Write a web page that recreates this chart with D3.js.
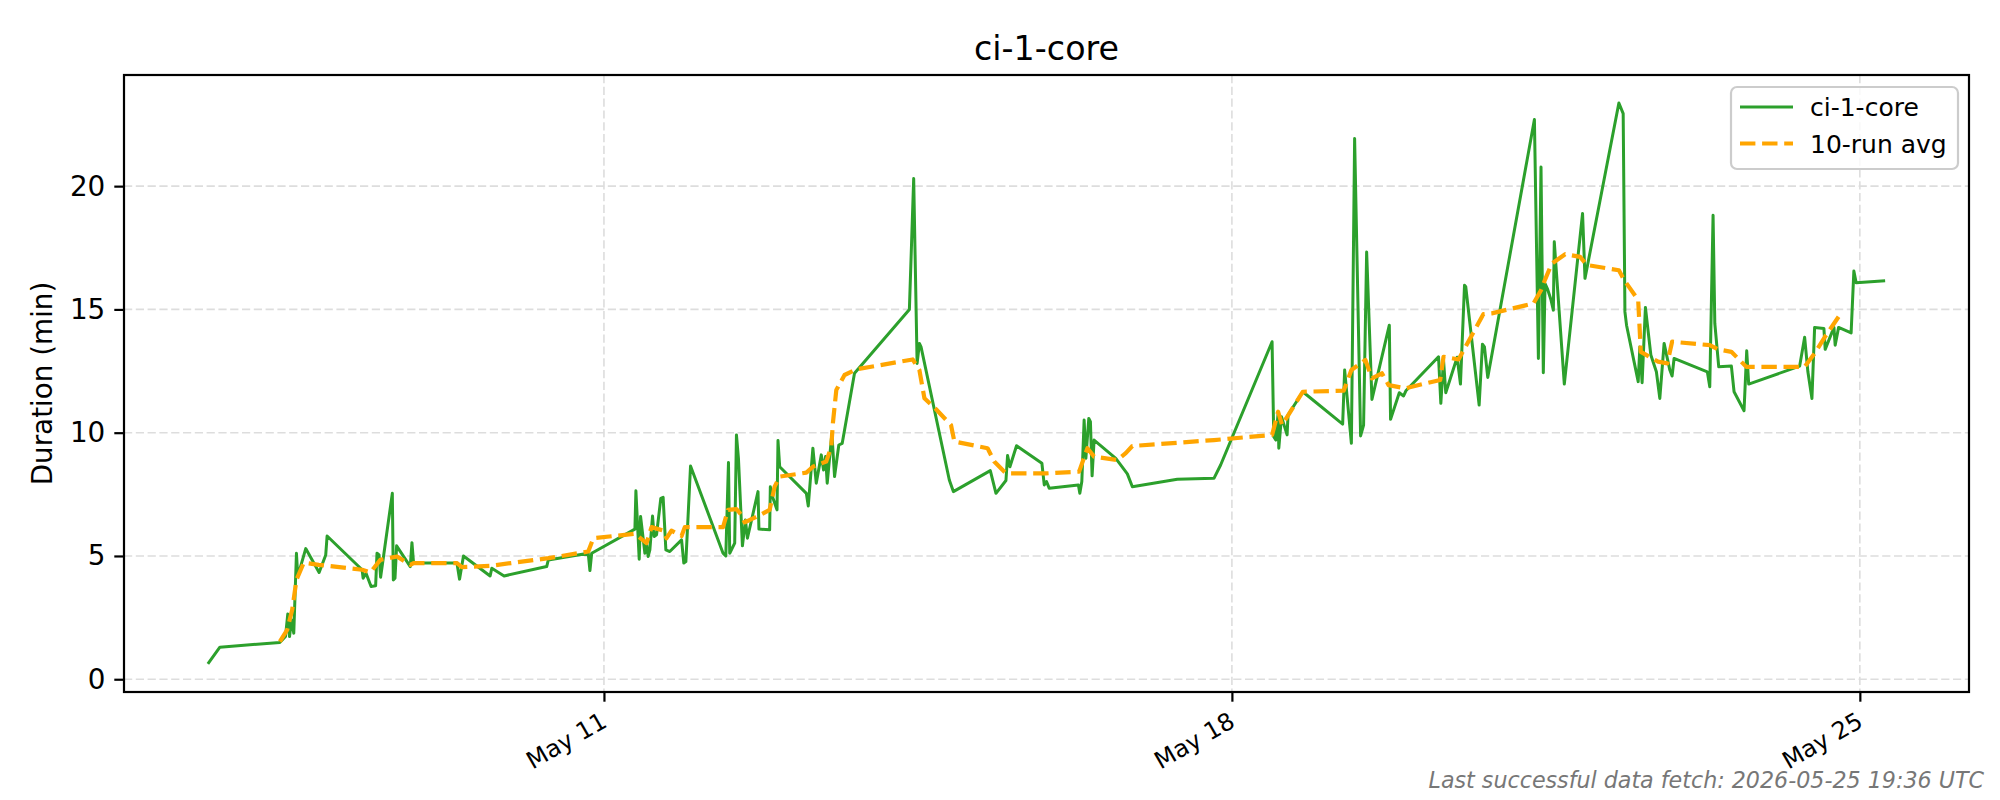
<!DOCTYPE html>
<html>
<head>
<meta charset="utf-8">
<script src="https://cdn.jsdelivr.net/npm/d3@7"></script>
<style>
  html, body { margin: 0; padding: 0; background: #ffffff; }
  svg { display: block; font-family: "DejaVu Sans", sans-serif; }
</style>
</head>
<body>
<svg id="chart" width="2000" height="800"></svg>
<script>
// ---------------- data ----------------
const chartTitle = "ci-1-core";
const seriesName = "ci-1-core";
const avgName = "10-run avg";
const yLabel = "Duration (min)";
const footerText = "Last successful data fetch: 2026-05-25 19:36 UTC";

const runTimes = [
"2026-05-06T14:02","2026-05-06T17:15","2026-05-07T09:17","2026-05-07T10:48","2026-05-07T11:25","2026-05-07T11:53","2026-05-07T12:25","2026-05-07T13:01","2026-05-07T13:44","2026-05-07T14:05",
"2026-05-07T16:13","2026-05-07T19:48","2026-05-07T21:34","2026-05-07T21:56","2026-05-08T07:18","2026-05-08T07:34","2026-05-08T08:21","2026-05-08T09:42","2026-05-08T10:55","2026-05-08T11:17",
"2026-05-08T11:50","2026-05-08T12:15","2026-05-08T15:23","2026-05-08T15:39","2026-05-08T16:06","2026-05-08T16:32","2026-05-08T20:11","2026-05-08T20:38","2026-05-08T21:04","2026-05-09T08:40",
"2026-05-09T09:22","2026-05-09T10:25","2026-05-09T17:33","2026-05-09T18:00","2026-05-09T21:17","2026-05-10T08:41","2026-05-10T09:07","2026-05-10T19:48","2026-05-10T20:15","2026-05-10T20:43",
"2026-05-11T08:17","2026-05-11T08:33","2026-05-11T09:26","2026-05-11T09:48","2026-05-11T10:57","2026-05-11T11:24","2026-05-11T11:50","2026-05-11T12:17","2026-05-11T13:00","2026-05-11T13:26",
"2026-05-11T14:04","2026-05-11T15:13","2026-05-11T15:50","2026-05-11T16:34","2026-05-11T17:37","2026-05-11T20:46","2026-05-11T21:22","2026-05-11T21:55","2026-05-11T23:10","2026-05-12T07:52",
"2026-05-12T08:36","2026-05-12T09:19","2026-05-12T09:39","2026-05-12T10:59","2026-05-12T11:27","2026-05-12T11:59","2026-05-12T13:03","2026-05-12T13:51","2026-05-12T14:23","2026-05-12T17:13",
"2026-05-12T17:28","2026-05-12T20:20","2026-05-12T20:31","2026-05-12T21:04","2026-05-12T22:18","2026-05-12T22:34","2026-05-12T23:01","2026-05-13T06:09","2026-05-13T06:40","2026-05-13T07:54",
"2026-05-13T08:48","2026-05-13T10:09","2026-05-13T10:45","2026-05-13T11:18","2026-05-13T11:44","2026-05-13T12:59","2026-05-13T13:42","2026-05-13T14:50","2026-05-13T15:45","2026-05-13T19:02",
"2026-05-14T09:43","2026-05-14T10:52","2026-05-14T11:47","2026-05-14T12:24","2026-05-14T12:50","2026-05-14T20:24","2026-05-14T21:29","2026-05-15T07:22","2026-05-15T08:53","2026-05-15T11:33",
"2026-05-15T11:59","2026-05-15T12:37","2026-05-15T14:23","2026-05-15T21:10","2026-05-15T21:48","2026-05-15T22:24","2026-05-15T23:07","2026-05-16T06:56","2026-05-16T07:19","2026-05-16T07:51",
"2026-05-16T08:28","2026-05-16T08:56","2026-05-16T09:43","2026-05-16T10:09","2026-05-16T10:36","2026-05-16T11:08","2026-05-16T16:56","2026-05-16T20:02","2026-05-16T21:22","2026-05-17T09:23",
"2026-05-17T19:12","2026-05-17T20:59","2026-05-18T10:45","2026-05-18T11:12","2026-05-18T11:45","2026-05-18T12:22","2026-05-18T12:33","2026-05-18T13:16","2026-05-18T14:46","2026-05-18T15:01",
"2026-05-18T18:58","2026-05-19T05:38","2026-05-19T06:10","2026-05-19T07:58","2026-05-19T08:50","2026-05-19T10:26","2026-05-19T11:14","2026-05-19T12:03","2026-05-19T13:28","2026-05-19T18:07",
"2026-05-19T18:27","2026-05-19T20:47","2026-05-19T21:56","2026-05-19T22:33","2026-05-20T07:17","2026-05-20T07:54","2026-05-20T08:37","2026-05-20T09:13","2026-05-20T12:16","2026-05-20T13:09",
"2026-05-20T14:14","2026-05-20T14:34","2026-05-20T18:09","2026-05-20T19:02","2026-05-20T19:34","2026-05-20T20:27","2026-05-21T08:56","2026-05-21T10:00","2026-05-21T10:42","2026-05-21T11:19",
"2026-05-21T11:47","2026-05-21T12:29","2026-05-21T13:23","2026-05-21T14:00","2026-05-21T14:15","2026-05-21T16:56","2026-05-21T21:49","2026-05-21T22:28","2026-05-22T07:32","2026-05-22T08:41",
"2026-05-22T09:09","2026-05-22T09:35","2026-05-22T12:42","2026-05-22T13:09","2026-05-22T13:45","2026-05-22T14:38","2026-05-22T16:05","2026-05-22T17:34","2026-05-22T18:29","2026-05-22T19:38",
"2026-05-22T21:10","2026-05-22T21:46","2026-05-22T22:18","2026-05-23T07:12","2026-05-23T07:51","2026-05-23T08:44","2026-05-23T09:12","2026-05-23T10:15","2026-05-23T13:38","2026-05-23T14:21",
"2026-05-23T17:01","2026-05-23T17:44","2026-05-23T18:16","2026-05-24T07:54","2026-05-24T09:14","2026-05-24T10:06","2026-05-24T11:11","2026-05-24T11:54","2026-05-24T14:23","2026-05-24T14:44",
"2026-05-24T17:04","2026-05-24T17:24","2026-05-24T18:19","2026-05-24T21:40","2026-05-24T22:24","2026-05-24T23:01","2026-05-25T06:46"
];
const runMinutes = [
0.62,1.30,1.49,1.73,2.65,1.73,2.41,1.87,5.11,4.17,
5.30,4.33,5.04,5.81,4.44,4.10,4.30,3.76,3.79,5.11,
5.04,4.14,7.54,4.03,4.10,5.41,4.57,5.54,4.71,4.71,
4.06,5.00,4.19,4.50,4.19,4.57,4.84,5.11,4.41,5.11,
6.09,7.64,4.87,6.60,5.11,5.52,4.98,5.25,6.62,5.79,
5.86,7.34,7.38,5.25,5.18,5.65,4.71,4.77,8.65,5.11,
5.00,8.79,5.11,5.52,9.91,8.96,5.41,6.46,5.72,7.61,
6.09,6.06,7.81,7.41,6.87,9.68,8.62,7.54,7.03,9.37,
7.95,9.10,8.49,9.03,7.95,9.97,8.22,9.50,9.57,12.41,
15.00,20.31,12.81,13.62,13.48,8.08,7.61,8.46,7.54,8.06,
9.07,8.62,9.47,8.76,7.88,8.02,7.75,7.88,7.54,8.02,
10.51,8.96,10.58,10.45,8.25,9.70,8.96,8.33,7.81,8.11,
8.15,8.69,13.69,9.84,9.70,10.79,9.37,10.65,9.91,10.72,
11.66,10.35,12.54,9.57,21.93,9.87,10.31,17.33,11.35,14.36,
10.54,11.62,11.49,11.70,13.08,11.19,12.95,11.62,13.06,11.97,
15.98,15.92,11.12,13.59,13.48,12.24,22.70,13.01,20.78,12.43,
16.05,15.81,15.38,14.97,17.74,11.97,18.89,16.26,23.37,22.94,
14.90,14.36,12.07,13.48,12.03,15.08,13.15,12.47,11.39,13.62,
12.54,12.30,13.01,12.47,11.86,18.82,14.43,12.67,12.70,11.66,
10.89,13.32,11.97,12.70,13.87,12.47,11.39,14.27,14.23,13.38,
14.27,13.55,14.27,14.05,16.56,16.08,16.16
];

const avgTimes = [
"2026-05-07T09:17","2026-05-07T11:15","2026-05-07T12:36","2026-05-07T13:44","2026-05-07T15:42","2026-05-07T19:42","2026-05-08T07:18","2026-05-08T09:30","2026-05-08T12:10","2026-05-08T16:38",
"2026-05-08T20:11","2026-05-08T21:04","2026-05-09T08:40","2026-05-09T09:59","2026-05-09T17:33","2026-05-10T09:07","2026-05-10T19:48","2026-05-10T21:09","2026-05-11T08:17","2026-05-11T11:24",
"2026-05-11T12:44","2026-05-11T15:50","2026-05-11T16:45","2026-05-11T18:04","2026-05-11T20:46","2026-05-11T21:38","2026-05-12T07:52","2026-05-12T09:12","2026-05-12T11:27","2026-05-12T12:46",
"2026-05-12T13:39","2026-05-12T17:13","2026-05-12T20:20","2026-05-12T21:40","2026-05-12T23:01","2026-05-13T06:09","2026-05-13T07:54","2026-05-13T11:28","2026-05-13T12:49","2026-05-13T13:15",
"2026-05-13T14:10","2026-05-13T16:22","2026-05-13T19:29","2026-05-14T10:36","2026-05-14T12:24","2026-05-14T13:44","2026-05-14T16:51","2026-05-14T20:51","2026-05-14T21:45","2026-05-15T06:38",
"2026-05-15T08:25","2026-05-15T11:33","2026-05-15T22:14","2026-05-16T07:08","2026-05-16T09:21","2026-05-16T11:08","2026-05-16T17:21","2026-05-16T19:36","2026-05-16T21:22","2026-05-17T19:12",
"2026-05-18T10:45","2026-05-18T12:22","2026-05-18T13:26","2026-05-18T18:58","2026-05-19T05:54","2026-05-19T07:58","2026-05-19T11:43","2026-05-19T13:28","2026-05-19T16:08","2026-05-19T17:56",
"2026-05-19T22:23","2026-05-20T07:44","2026-05-20T08:37","2026-05-20T12:38","2026-05-20T19:18","2026-05-20T21:31","2026-05-21T08:40","2026-05-21T10:42","2026-05-21T11:47","2026-05-21T13:35",
"2026-05-21T17:10","2026-05-21T21:10","2026-05-21T22:57","2026-05-22T07:32","2026-05-22T08:57","2026-05-22T12:42","2026-05-22T13:24","2026-05-22T18:01","2026-05-22T20:30","2026-05-22T21:46",
"2026-05-23T07:51","2026-05-23T10:02","2026-05-23T13:38","2026-05-23T17:38","2026-05-24T09:14","2026-05-24T11:54","2026-05-24T14:40","2026-05-24T18:19"
];
const avgMinutes = [
1.53,2.00,2.82,4.03,4.73,4.64,4.44,4.33,4.84,4.98,
4.64,4.71,4.71,4.55,4.60,4.91,5.18,5.72,5.90,5.52,
6.17,6.03,5.72,6.03,5.81,6.17,6.17,6.87,6.90,6.67,
6.36,6.62,6.87,7.81,8.22,8.38,8.62,8.83,9.43,10.38,
11.73,12.34,12.57,12.97,12.54,11.40,10.95,10.31,9.64,9.37,
8.83,8.35,8.35,8.42,9.37,9.03,8.89,9.17,9.46,9.70,
9.91,10.85,10.31,11.66,11.70,12.54,12.95,12.20,12.41,11.93,
11.80,12.14,13.08,12.97,14.81,14.84,15.24,15.78,16.21,16.86,
17.24,17.13,16.80,16.59,16.19,15.38,13.28,12.88,12.81,13.69,
13.55,13.38,13.28,12.67,12.67,13.22,13.89,14.70
];

const yTicks = [0, 5, 10, 15, 20];
const xTickDates = ["2026-05-11T00:00", "2026-05-18T00:00", "2026-05-25T00:00"];
const xTickLabels = ["May 11", "May 18", "May 25"];

// ---------------- layout ----------------
const plot = { left: 124, right: 1969, top: 75, bottom: 692 };
const green = "#2ca02c";
const orange = "#ffa500";

const parse = d3.utcParse("%Y-%m-%dT%H:%M");
const runs = runTimes.map((t, i) => ({ t: parse(t), v: runMinutes[i] }));
const avgs = avgTimes.map((t, i) => ({ t: parse(t), v: avgMinutes[i] }));

// matplotlib-like 5% margins
const tExt = d3.extent(runs, d => +d.t);
const tPad = (tExt[1] - tExt[0]) * 0.05;
const vExt = d3.extent(runs, d => d.v);
const vPad = (vExt[1] - vExt[0]) * 0.05;

const x = d3.scaleUtc()
  .domain([new Date(tExt[0] - tPad), new Date(tExt[1] + tPad)])
  .range([plot.left, plot.right]);
const y = d3.scaleLinear()
  .domain([vExt[0] - vPad, vExt[1] + vPad])
  .range([plot.bottom, plot.top]);

const svg = d3.select("#chart");
svg.append("rect").attr("width", 2000).attr("height", 800).attr("fill", "#ffffff");

// grid
const grid = svg.append("g");
grid.selectAll("line.gy").data(yTicks).enter().append("line")
  .attr("x1", plot.left).attr("x2", plot.right)
  .attr("y1", d => y(d)).attr("y2", d => y(d))
  .attr("stroke", "#dddddd").attr("stroke-width", 1.6).attr("stroke-dasharray", "8.2,3.6");
grid.selectAll("line.gx").data(xTickDates).enter().append("line")
  .attr("x1", d => x(parse(d))).attr("x2", d => x(parse(d)))
  .attr("y1", plot.top).attr("y2", plot.bottom)
  .attr("stroke", "#dddddd").attr("stroke-width", 1.6).attr("stroke-dasharray", "8.2,3.6");

// clip
svg.append("clipPath").attr("id", "clip").append("rect")
  .attr("x", plot.left).attr("y", plot.top)
  .attr("width", plot.right - plot.left).attr("height", plot.bottom - plot.top);

const line = d3.line().x(d => x(d.t)).y(d => y(d.v));

svg.append("path").datum(runs)
  .attr("clip-path", "url(#clip)")
  .attr("d", line).attr("fill", "none")
  .attr("stroke", green).attr("stroke-width", 3).attr("stroke-linejoin", "round");

svg.append("path").datum(avgs)
  .attr("clip-path", "url(#clip)")
  .attr("d", line).attr("fill", "none")
  .attr("stroke", orange).attr("stroke-width", 4.2)
  .attr("stroke-dasharray", "15.4,6.7").attr("stroke-linejoin", "round");

// axes frame
svg.append("rect")
  .attr("x", plot.left).attr("y", plot.top)
  .attr("width", plot.right - plot.left).attr("height", plot.bottom - plot.top)
  .attr("fill", "none").attr("stroke", "#000").attr("stroke-width", 2.2);

// y axis
const yAxis = d3.axisLeft(y).tickValues(yTicks).tickSize(9.7).tickPadding(9).tickFormat(d3.format("d"));
const gy = svg.append("g").attr("transform", `translate(${plot.left},0)`).call(yAxis);
gy.select(".domain").remove();
gy.selectAll(".tick line").attr("stroke", "#000").attr("stroke-width", 2.2);
gy.selectAll(".tick text").attr("font-size", 27.8).attr("fill", "#000")
  .attr("font-family", "DejaVu Sans");

// x axis
const xAxis = d3.axisBottom(x).tickValues(xTickDates.map(parse)).tickSize(9.7)
  .tickFormat((d, i) => xTickLabels[i]);
const gx = svg.append("g").attr("transform", `translate(0,${plot.bottom})`).call(xAxis);
gx.select(".domain").remove();
gx.selectAll(".tick line").attr("stroke", "#000").attr("stroke-width", 2.2);
gx.selectAll(".tick text")
  .attr("font-size", 24).attr("fill", "#000").attr("font-family", "DejaVu Sans")
  .attr("text-anchor", "end")
  .attr("x", 0).attr("y", 0).attr("dy", "0.76em")
  .attr("transform", "translate(-5,18) rotate(-30)");

// title
svg.append("text").attr("x", (plot.left + plot.right) / 2).attr("y", 60)
  .attr("text-anchor", "middle").attr("font-size", 33.3).attr("fill", "#000")
  .text(chartTitle);

// y label
svg.append("text")
  .attr("transform", `translate(52,${(plot.top + plot.bottom) / 2}) rotate(-90)`)
  .attr("text-anchor", "middle").attr("font-size", 27.8).attr("fill", "#000")
  .text(yLabel);

// legend
const lg = svg.append("g");
lg.append("rect").attr("x", 1731).attr("y", 87).attr("width", 227).attr("height", 82)
  .attr("rx", 6).attr("ry", 6)
  .attr("fill", "#ffffff").attr("fill-opacity", 0.8)
  .attr("stroke", "#cccccc").attr("stroke-width", 2.2);
lg.append("line").attr("x1", 1740).attr("x2", 1793).attr("y1", 107).attr("y2", 107)
  .attr("stroke", green).attr("stroke-width", 3);
lg.append("line").attr("x1", 1740).attr("x2", 1793).attr("y1", 143.5).attr("y2", 143.5)
  .attr("stroke", orange).attr("stroke-width", 4.2).attr("stroke-dasharray", "15.4,6.7");
lg.append("text").attr("x", 1810).attr("y", 116).attr("font-size", 25).attr("fill", "#000").text(seriesName);
lg.append("text").attr("x", 1810).attr("y", 153).attr("font-size", 25).attr("fill", "#000").text(avgName);

// footer
svg.append("text").attr("x", 1984).attr("y", 788)
  .attr("text-anchor", "end").attr("font-size", 22.2).attr("font-style", "italic")
  .attr("fill", "#777777").text(footerText);
</script>
</body>
</html>
